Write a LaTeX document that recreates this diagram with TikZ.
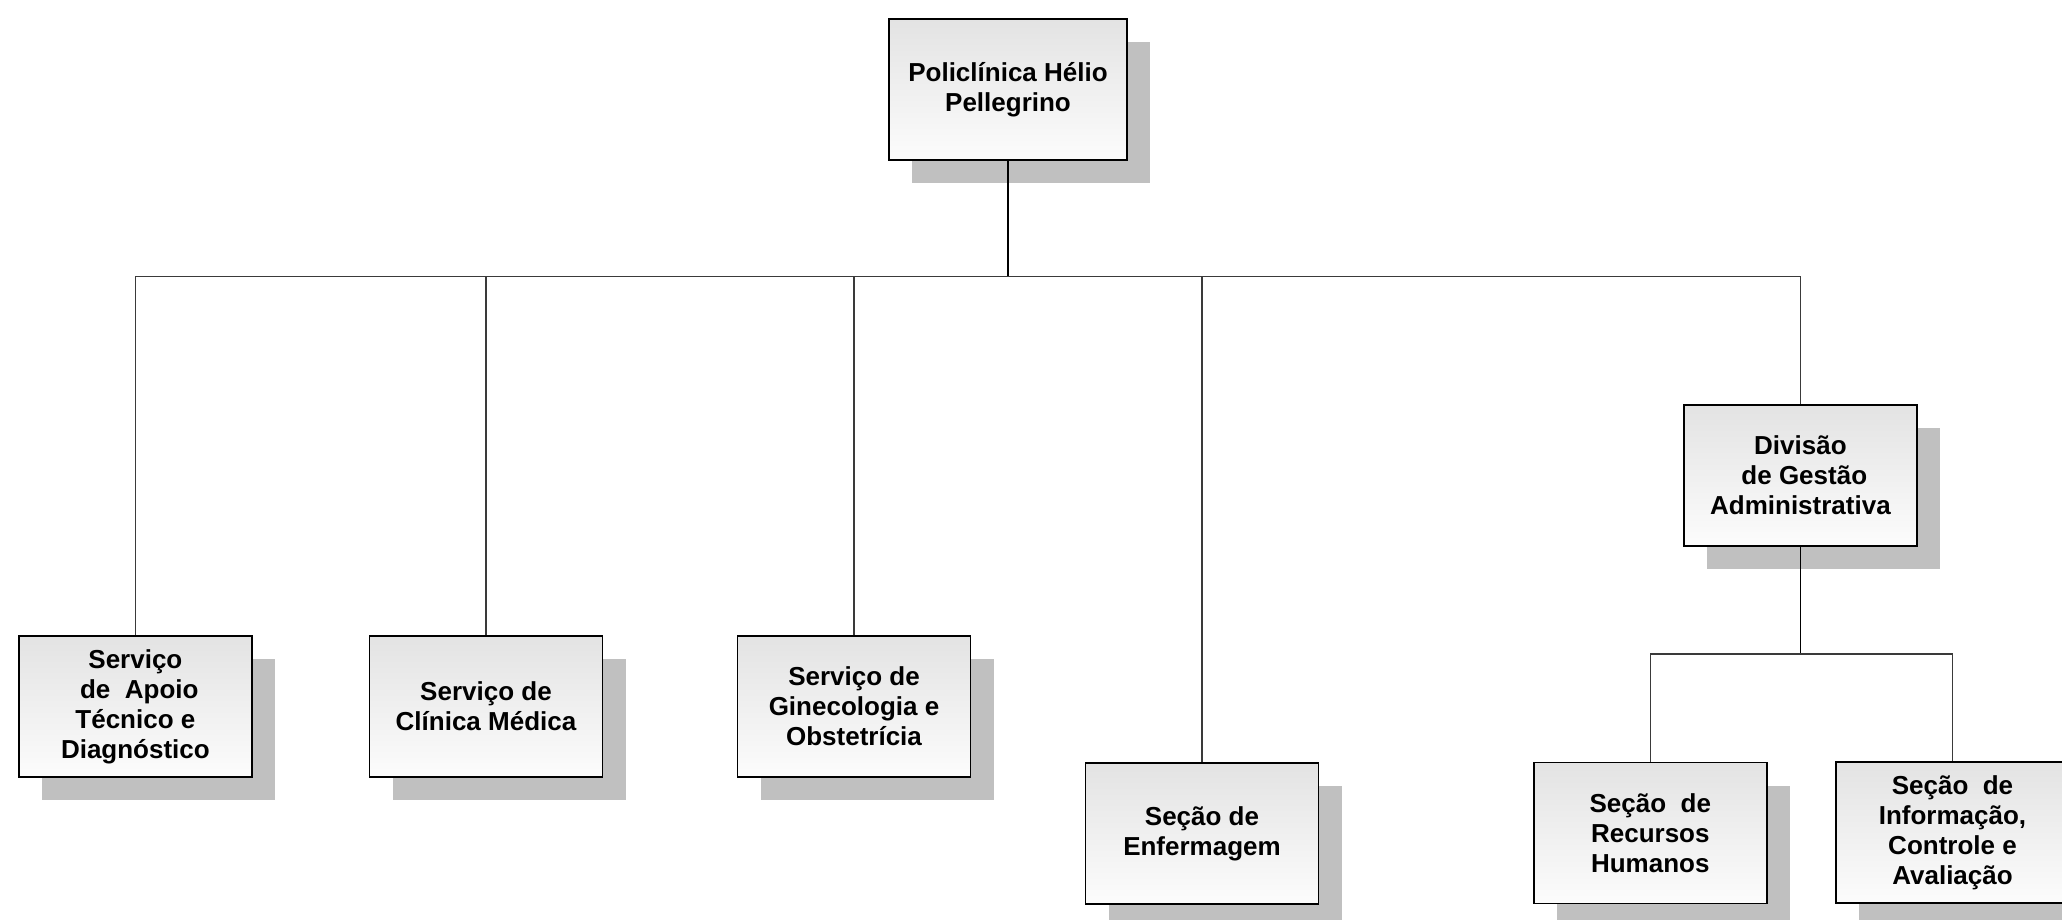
\documentclass[tikz,border=0pt]{standalone}
\usepackage{fontspec}
\setmainfont{Liberation Sans}
\usetikzlibrary{positioning, shadows}
\definecolor{boxtop}{HTML}{E3E3E3}
\definecolor{boxbottom}{HTML}{FCFCFC}
\definecolor{shadowgray}{HTML}{C0C0C0}
\definecolor{linkgray}{HTML}{3A3A3A}
\newcommand{\boxw}{233pt}

\begin{document}
\begin{tikzpicture}[
        x = 1pt,
        y = -1pt,
        every node/.style = {font = \bfseries\fontsize{26}{30}\selectfont},
        office/.style = {rectangle, draw = black, line width = 1.8pt,
          top color = boxtop, bottom color = boxbottom,
          minimum width = \boxw, minimum height = 141pt, inner sep = 0pt, align = center,
          drop shadow = {shadow xshift = 23pt, shadow yshift = -23pt, fill = shadowgray, opacity = 1}},
        link/.style = {draw = linkgray, line width = 1.2pt},
        stem/.style = {draw = black, line width = 1.8pt}
      ]
      \useasboundingbox (0,0) rectangle (2062,920);
      \clip (0,0) rectangle (2062,920);

      \node[office, minimum width = 238pt] (poli) at (1008,89.5) {Policlínica Hélio\\Pellegrino};
      \node[office] (apoio) at (135.4,706.5) {Serviço\\\hspace*{.3em}de\ \ Apoio\\Técnico e\\Diagnóstico};
      \node[office] (clinica) at (486,706.5) {Serviço de\\Clínica Médica};
      \node[office] (gineco) at (854,706.5) {Serviço de\\Ginecologia e\\Obstetrícia};
      \node[office] (enferm) at (1202,833.5) {Seção de\\Enfermagem};
      \node[office] (divisao) at (1800.4,475.5) {Divisão\\\hspace*{.3em}de Gestão\\Administrativa};
      \node[office] (rh) at (1650.3,833) {Seção\ \ de\\Recursos\\Humanos};
      \node[office] (info) at (1952.5,832.5) {Seção\ \ de\\Informação,\\Controle e\\Avaliação};

      \coordinate (bus) at (1008,276.5);
      \coordinate (subbus) at (1800.4,654);

      \draw[stem] (poli.south) -- (bus);
      \foreach \dept in {apoio, clinica, gineco, enferm, divisao}
        \draw[link] (bus) -| (\dept.north);
      \draw[stem] (divisao.south) -- (subbus);
      \foreach \dept in {rh, info}
        \draw[link] (subbus) -| (\dept.north);
    \end{tikzpicture}
\end{document}
